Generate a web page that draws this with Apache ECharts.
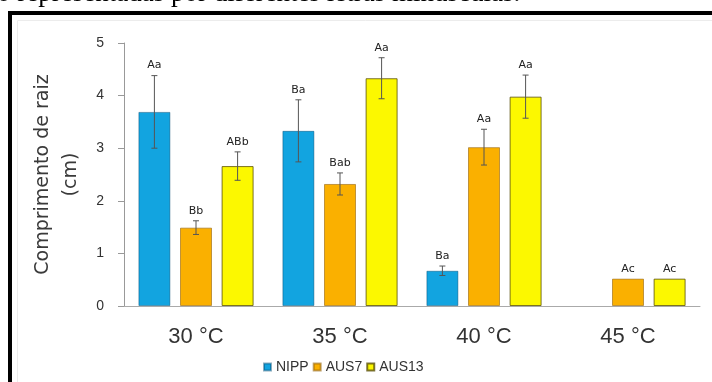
<!DOCTYPE html>
<html>
<head>
<meta charset="utf-8">
<script src="https://cdn.jsdelivr.net/npm/echarts@6/dist/echarts.min.js"></script>
<style>
  html, body { margin: 0; padding: 0; background: #fff; }
  #chart { width: 712px; height: 382px; }
</style>
</head>
<body>
<div id="chart"></div>
<script>
// Root length by temperature for three cultivars (mean ± error, letters from the mean test)
const categories = ['30 °C', '35 °C', '40 °C', '45 °C'];
const seriesNames = ['NIPP', 'AUS7', 'AUS13'];

const nippValues  = [3.69, 3.33, 0.67, null];
const aus7Values  = [1.49, 2.32, 3.02, 0.52];
const aus13Values = [2.66, 4.33, 3.98, 0.52];

const nippErrors  = [0.69, 0.59, 0.09, null];
const aus7Errors  = [0.13, 0.21, 0.34, 0];
const aus13Errors = [0.27, 0.39, 0.41, 0];

const nippLetters  = ['Aa', 'Ba', 'Ba', ''];
const aus7Letters  = ['Bb', 'Bab', 'Aa', 'Ac'];
const aus13Letters = ['ABb', 'Aa', 'Aa', 'Ac'];

const yMin = 0, yMax = 5, yStep = 1;

const allValues  = [nippValues, aus7Values, aus13Values];
const allErrors  = [nippErrors, aus7Errors, aus13Errors];
const allLetters = [nippLetters, aus7Letters, aus13Letters];

const colors = ['#12A4E0', '#FAB000', '#FCF800'];
const borders = ['rgba(0,70,110,0.45)', 'rgba(140,90,0,0.55)', 'rgba(80,70,0,0.75)'];

const BAR_W = 32;
const GAP_RATIO = 0.3;

// error bar + letter records: [category, low, high, series]
const errorData = [];
allValues.forEach((vals, s) => {
  vals.forEach((v, c) => {
    if (v === null) return;
    const e = allErrors[s][c] || 0;
    errorData.push([c, v - e, v + e, s]);
  });
});

const chart = echarts.init(document.getElementById('chart'), null, { renderer: 'canvas' });

const barSeries = seriesNames.map((name, s) => ({
  name,
  type: 'bar',
  barWidth: BAR_W,
  barGap: (GAP_RATIO * 100) + '%',
  data: allValues[s].map(v => (v === null ? '-' : v)),
  itemStyle: { color: colors[s], borderColor: borders[s], borderWidth: 1 },
  z: 2
}));

const errorSeries = {
  type: 'custom',
  z: 5,
  silent: true,
  data: errorData,
  encode: { x: 0, y: [1, 2] },
  renderItem(params, api) {
    const c = api.value(0);
    const lo = api.value(1);
    const hi = api.value(2);
    const s = api.value(3);
    const base = api.coord([c, 0]);
    const x = base[0] + (s - 1) * (BAR_W * (1 + GAP_RATIO));
    const yLo = api.coord([c, lo])[1];
    const yHi = api.coord([c, hi])[1];
    const lineStyle = { stroke: '#555', lineWidth: 1 };
    const children = [];
    if (hi > lo) {
      children.push(
        { type: 'line', shape: { x1: x, y1: yLo, x2: x, y2: yHi }, style: lineStyle },
        { type: 'line', shape: { x1: x - 3, y1: yHi, x2: x + 3, y2: yHi }, style: lineStyle },
        { type: 'line', shape: { x1: x - 3, y1: yLo, x2: x + 3, y2: yLo }, style: lineStyle }
      );
    }
    const letter = allLetters[s][c];
    if (letter) {
      children.push({
        type: 'text',
        style: {
          text: letter, x: x, y: yHi - 10,
          align: 'center', verticalAlign: 'middle',
          font: '11px "DejaVu Sans", sans-serif', fill: '#222'
        }
      });
    }
    return { type: 'group', children };
  }
};

chart.setOption({
  backgroundColor: '#fff',
  animation: false,
  graphic: [
    {
      type: 'text', z: 10,
      style: {
        text: 'o representadas por diferentes letras minúsculas.',
        x: -3, y: 7,
        verticalAlign: 'bottom',
        font: '27px "Liberation Serif", "Times New Roman", serif',
        fill: '#000'
      }
    },
    {
      type: 'rect', z: 10, silent: true,
      shape: { x: 10, y: 13, width: 800, height: 500 },
      style: { fill: null, stroke: '#000', lineWidth: 4 }
    },
    {
      type: 'rect', z: 9, silent: true,
      shape: { x: 17.5, y: 20.5, width: 800, height: 500 },
      style: { fill: null, stroke: '#ececec', lineWidth: 1 }
    }
  ],
  grid: { left: 124, right: 12, top: 43, bottom: 76, containLabel: false },
  legend: {
    data: seriesNames,
    left: 258,
    top: 355,
    itemWidth: 7,
    itemHeight: 7,
    itemGap: 4,
    icon: 'rect',
    textStyle: { fontSize: 14, color: '#333', fontFamily: 'Liberation Sans, Arial, sans-serif', width: 55 }
  },
  xAxis: {
    type: 'category',
    data: categories,
    axisLine: { lineStyle: { color: '#aaa', width: 1 } },
    axisTick: { show: false },
    axisLabel: { fontSize: 22, color: '#333', margin: 20, fontFamily: 'Liberation Sans, Arial, sans-serif' }
  },
  yAxis: {
    type: 'value',
    min: yMin,
    max: yMax,
    interval: yStep,
    name: 'Comprimento de raiz\n(cm)',
    nameLocation: 'middle',
    nameGap: 32,
    nameTextStyle: { fontSize: 19, lineHeight: 28, color: '#3a3a3a', fontFamily: 'DejaVu Sans, sans-serif' },
    axisLine: { show: true, lineStyle: { color: '#999', width: 1 } },
    axisTick: { show: true, length: 6, lineStyle: { color: '#999' } },
    splitLine: { show: false },
    axisLabel: { fontSize: 14, color: '#333', margin: 20, fontFamily: 'Liberation Sans, Arial, sans-serif' }
  },
  series: [...barSeries, errorSeries]
});
</script>
</body>
</html>
